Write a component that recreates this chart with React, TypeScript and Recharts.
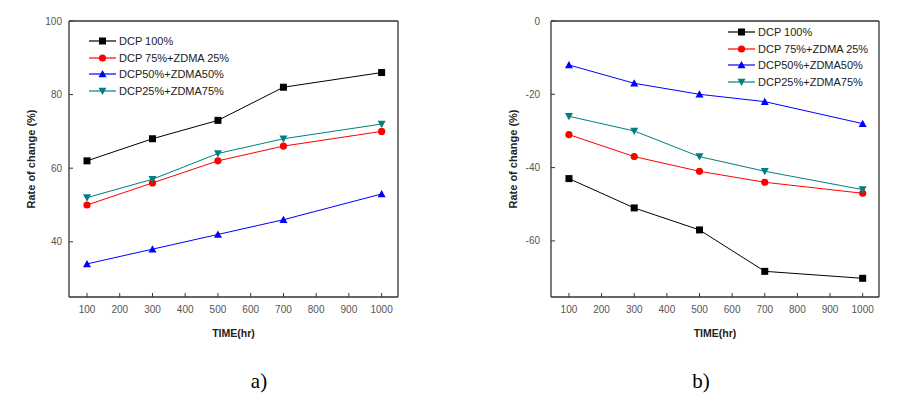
import React from "react";
import { LineChart, Line, XAxis, YAxis, Legend, Label, ReferenceLine } from "recharts";

const times = [100, 300, 500, 700, 1000];
const xTicks = [100, 200, 300, 400, 500, 600, 700, 800, 900, 1000];
const xDomain: [number, number] = [45, 1050];

const seriesNames = ["DCP 100%", "DCP 75%+ZDMA 25%", "DCP50%+ZDMA50%", "DCP25%+ZDMA75%"];
const seriesColors = ["#000000", "#ff0000", "#0000ff", "#008080"];
const seriesShapes = ["square", "circle", "triangle", "triangleDown"];

const aDcp100 = [62, 68, 73, 82, 86];
const aDcp75 = [50, 56, 62, 66, 70];
const aDcp50 = [34, 38, 42, 46, 53];
const aDcp25 = [52, 57, 64, 68, 72];
const aTicks = [40, 60, 80, 100];

const bDcp100 = [-43, -51, -57, -68.3, -70.2];
const bDcp75 = [-31, -37, -41, -44, -47];
const bDcp50 = [-12, -17, -20, -22, -28];
const bDcp25 = [-26, -30, -37, -41, -46];
const bTicks = [-60, -40, -20, 0];

const keys = ["s0", "s1", "s2", "s3"];

function buildRows(series: number[][]) {
  return times.map((t, i) => {
    const row: any = { time: t };
    series.forEach((s, k) => (row[keys[k]] = s[i]));
    return row;
  });
}

const dataA = buildRows([aDcp100, aDcp75, aDcp50, aDcp25]);
const dataB = buildRows([bDcp100, bDcp75, bDcp50, bDcp25]);

const FONT = "'Liberation Sans', Arial, sans-serif";

function Marker({ cx, cy, shape, color }: { cx: number; cy: number; shape: string; color: string }) {
  if (shape === "square") return <rect x={cx - 3.5} y={cy - 3.5} width={7} height={7} fill={color} />;
  if (shape === "circle") return <circle cx={cx} cy={cy} r={3.6} fill={color} />;
  if (shape === "triangle")
    return <polygon points={`${cx - 4},${cy + 3.3} ${cx + 4},${cy + 3.3} ${cx},${cy - 4}`} fill={color} />;
  return <polygon points={`${cx - 4},${cy - 3.3} ${cx + 4},${cy - 3.3} ${cx},${cy + 4}`} fill={color} />;
}

function makeDot(k: number) {
  return (props: any) => {
    const { cx, cy, index } = props;
    if (cx == null || cy == null) return <g key={`d${k}-${index}`} />;
    return (
      <g key={`d${k}-${index}`}>
        <Marker cx={cx} cy={cy} shape={seriesShapes[k]} color={seriesColors[k]} />
      </g>
    );
  };
}

function LegendContent() {
  return (
    <div style={{ fontFamily: FONT, fontSize: 11, color: "#222", lineHeight: "16.5px" }}>
      {seriesNames.map((name, k) => (
        <div key={name} style={{ display: "flex", alignItems: "center", height: 16.5 }}>
          <svg width={30} height={12} style={{ display: "block" }}>
            <line x1={1} y1={6} x2={28} y2={6} stroke={seriesColors[k]} strokeWidth={1.2} />
            <Marker cx={14.5} cy={6} shape={seriesShapes[k]} color={seriesColors[k]} />
          </svg>
          <span style={{ marginLeft: 1, whiteSpace: "nowrap" }}>{name}</span>
        </div>
      ))}
    </div>
  );
}

const axisStroke = "#333";

function Panel({
  data,
  yDomain,
  yTicks,
  margin,
  yTickMargin,
  legendPos,
}: {
  data: any[];
  yDomain: [number, number];
  yTicks: number[];
  margin: { top: number; right: number; bottom: number; left: number };
  yTickMargin: number;
  legendPos: { left: number; top: number };
}) {
  return (
    <LineChart width={450} height={340} data={data} margin={margin}>
      <XAxis
        dataKey="time"
        type="number"
        domain={xDomain}
        ticks={xTicks}
        interval={0}
        allowDataOverflow
        height={40}
        tickSize={-4}
        tickMargin={13}
        stroke={axisStroke}
        axisLine={{ stroke: axisStroke, strokeWidth: 1.3 }}
        tickLine={{ stroke: axisStroke }}
        tick={{ fill: "#555", fontSize: 10, fontFamily: FONT }}
      >
        <Label
          value="TIME(hr)"
          position="insideBottom"
          offset={0}
          style={{ fontFamily: FONT, fontSize: 10.5, fontWeight: "bold", fill: "#222" }}
        />
      </XAxis>
      <YAxis
        type="number"
        domain={yDomain}
        ticks={yTicks}
        interval={0}
        allowDataOverflow
        width={60}
        tickSize={-4}
        tickMargin={yTickMargin}
        stroke={axisStroke}
        axisLine={{ stroke: axisStroke, strokeWidth: 1.3 }}
        tickLine={{ stroke: axisStroke }}
        tick={{ fill: "#555", fontSize: 10, fontFamily: FONT }}
      >
        <Label
          value="Rate of change (%)"
          angle={-90}
          position="insideLeft"
          offset={22}
          style={{ textAnchor: "middle", fontFamily: FONT, fontSize: 11, fontWeight: "bold", fill: "#222" }}
        />
      </YAxis>
      <ReferenceLine y={yDomain[1]} stroke={axisStroke} strokeWidth={1.3} ifOverflow="visible" />
      <ReferenceLine x={xDomain[1]} stroke={axisStroke} strokeWidth={1.3} ifOverflow="visible" />
      <Legend
        layout="vertical"
        verticalAlign="middle"
        align="center"
        content={() => <LegendContent />}
        wrapperStyle={{ position: "absolute", left: legendPos.left, top: legendPos.top, width: 200 }}
      />
      {keys.map((key, k) => (
        <Line
          key={key}
          dataKey={key}
          name={seriesNames[k]}
          stroke={seriesColors[k]}
          strokeWidth={1}
          dot={makeDot(k)}
          activeDot={false}
          isAnimationActive={false}
        />
      ))}
    </LineChart>
  );
}

export default function App() {
  return (
    <div style={{ position: "absolute", left: 0, top: 0, width: 899, height: 401, background: "#fff" }}>
      <div style={{ position: "absolute", left: 0, top: 0 }}>
        <Panel
          data={dataA}
          yDomain={[25, 100]}
          yTicks={aTicks}
          margin={{ top: 21, right: 52, bottom: 3, left: 9 }}
          yTickMargin={11}
          legendPos={{ left: 88, top: 33 }}
        />
      </div>
      <div style={{ position: "absolute", left: 450, top: 0 }}>
        <Panel
          data={dataB}
          yDomain={[-75.3, 0]}
          yTicks={bTicks}
          margin={{ top: 21, right: 21, bottom: 3, left: 41 }}
          yTickMargin={15}
          legendPos={{ left: 277, top: 24 }}
        />
      </div>
      <div
        style={{
          position: "absolute",
          left: 229,
          top: 368,
          width: 60,
          textAlign: "center",
          fontFamily: "'Liberation Serif', 'Times New Roman', serif",
          fontSize: 21,
          lineHeight: "26px",
        }}
      >
        a)
      </div>
      <div
        style={{
          position: "absolute",
          left: 671,
          top: 368,
          width: 60,
          textAlign: "center",
          fontFamily: "'Liberation Serif', 'Times New Roman', serif",
          fontSize: 21,
          lineHeight: "26px",
        }}
      >
        b)
      </div>
    </div>
  );
}
